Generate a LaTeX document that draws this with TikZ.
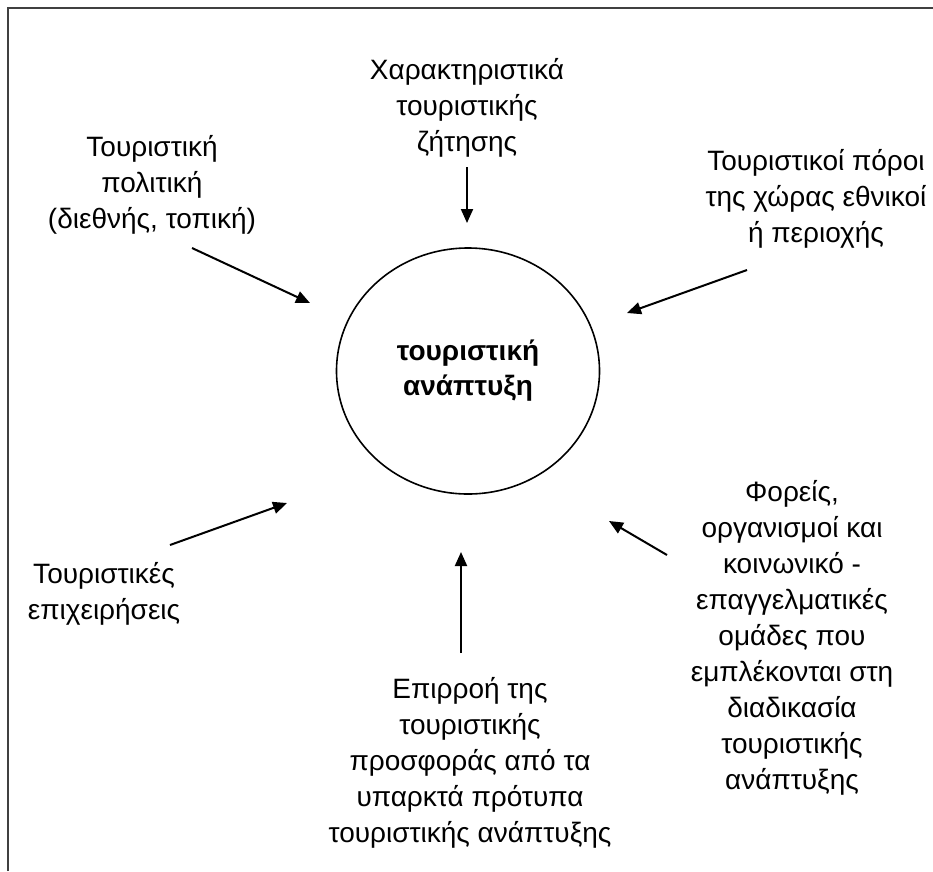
\documentclass[tikz,border=0pt]{standalone}
\usepackage{fontspec}
\setmainfont{Liberation Sans}
\usetikzlibrary{arrows.meta, shapes.geometric}

\begin{document}
\begin{tikzpicture}[x=1pt, y=-1pt, every node/.style={align=center, inner sep=0pt, font=\fontsize{28}{36}\selectfont}, arr/.style={-{Triangle[length=14pt, width=12pt]}, line width=2pt}]
	\useasboundingbox (0,0) rectangle (933,871);
	\draw[line width=2.5pt, draw=black!75] (8,871) -- (8,8) -- (933,8);

	\node[draw, ellipse, line width=1.6pt, minimum width=263pt, minimum height=246pt, font=\bfseries\fontsize{28}{35}\selectfont] (dev) at (468,371) {τουριστική\\ανάπτυξη};

	\node[anchor=base] (demand) at (467,151) {Χαρακτηριστικά\\τουριστικής\\ζήτησης};
	\node[anchor=base] (policy) at (152,228) {Τουριστική\\πολιτική\\(διεθνής, τοπική)};
	\node[anchor=base] (resources) at (816,242) {Τουριστικοί πόροι\\της χώρας εθνικοί\\ή περιοχής};
	\node[anchor=base] (business) at (104,619) {Τουριστικές\\επιχειρήσεις};
	\node[anchor=base] (supply) at (470,842) {Επιρροή της\\τουριστικής\\προσφοράς από τα\\υπαρκτά πρότυπα\\τουριστικής ανάπτυξης};
	\node[anchor=base] (bodies) at (792,789) {Φορείς,\\οργανισμοί και\\κοινωνικό -\\επαγγελματικές\\ομάδες που\\εμπλέκονται στη\\διαδικασία\\τουριστικής\\ανάπτυξης};

	\coordinate (demandS) at (467,167);
	\coordinate (demandT) at (467,223);
	\coordinate (policyS) at (192,248);
	\coordinate (policyT) at (310,303);
	\coordinate (resourcesS) at (747,270);
	\coordinate (resourcesT) at (627,313);
	\coordinate (businessS) at (170,545);
	\coordinate (businessT) at (287,503);
	\coordinate (supplyS) at (461,653);
	\coordinate (supplyT) at (461,552);
	\coordinate (bodiesS) at (667,555);
	\coordinate (bodiesT) at (609,521);

	\draw[arr] (demandS) -- (demandT);
	\draw[arr] (policyS) -- (policyT);
	\draw[arr] (resourcesS) -- (resourcesT);
	\draw[arr] (businessS) -- (businessT);
	\draw[arr] (supplyS) -- (supplyT);
	\draw[arr] (bodiesS) -- (bodiesT);
\end{tikzpicture}
\end{document}
